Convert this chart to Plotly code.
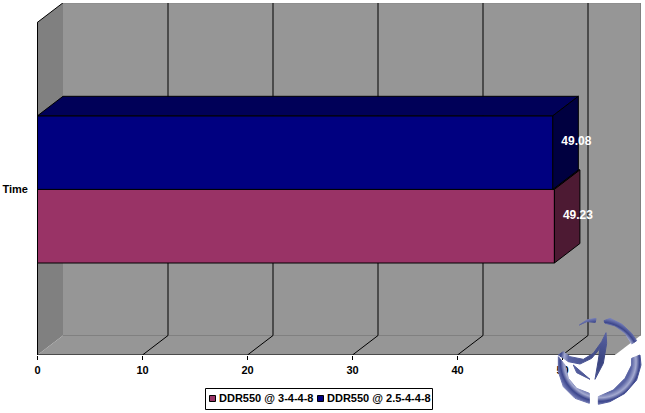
import base64
import plotly.graph_objects as go

categories = ["Time"]
category_positions = [0]
series_names = ["DDR550 @ 3-4-4-8", "DDR550 @ 2.5-4-4-8"]
series_values = [[49.23], [49.08]]
x_ticks = [0, 10, 20, 30, 40, 50]

front_colors = ["#993366", "#000080"]
top_colors = ["#4d1a33", "#000058"]
side_colors = ["#4d1a33", "#000040"]

X_MAX = 55
PX_UNIT = 10.5
PX_CAT = 333.0
DX = 25.5 / PX_UNIT
DY = 19.5 / PX_CAT
Y_LO = -0.4973
Y_HI = 0.5018
BAR_H = 73.6 / PX_CAT
L, R, T, B = 37, 4, 3, 58
PW, PH = 645 - L - R, 413 - T - B
FONT = "Liberation Sans"


def px(x, y):
    return (x - L) / PW, (413 - B - y) / PH


def poly_data(pts):
    return "M" + " L".join(f"{a:.5f},{b:.5f}" for a, b in pts) + " Z"


def line_shape(x0, y0, x1, y1, color="#000000"):
    return dict(type="line", xref="x", yref="y", x0=x0, y0=y0, x1=x1, y1=y1,
                layer="below", line=dict(color=color, width=1))


fig = go.Figure()

shapes = [
    dict(type="path", xref="x", yref="y", layer="below", fillcolor="#969696", line_width=0,
         path=poly_data([(DX, Y_LO + DY), (X_MAX + DX, Y_LO + DY), (X_MAX + DX, Y_HI + DY), (DX, Y_HI + DY)])),
    dict(type="path", xref="x", yref="y", layer="below", fillcolor="#808080", line_width=0,
         path=poly_data([(0, Y_LO), (DX, Y_LO + DY), (DX, Y_HI + DY), (0, Y_HI)])),
    dict(type="path", xref="x", yref="y", layer="below", fillcolor="#969696", line_width=0,
         path=poly_data([(0, Y_LO), (DX, Y_LO + DY), (X_MAX + DX, Y_LO + DY), (X_MAX, Y_LO)])),
    line_shape(DX, Y_LO + DY, X_MAX + DX, Y_LO + DY, "#808080"),
    line_shape(DX, Y_HI + DY, X_MAX + DX, Y_HI + DY, "#808080"),
    line_shape(X_MAX + DX, Y_LO + DY, X_MAX + DX, Y_HI + DY, "#808080"),
    line_shape(0, Y_HI, DX, Y_HI + DY),
]
for t in x_ticks[1:]:
    shapes.append(line_shape(t, Y_LO, t + DX, Y_LO + DY))
    shapes.append(line_shape(t + DX, Y_LO + DY, t + DX, Y_HI + DY))

# front bars
for name, vals, col in zip(series_names, series_values, front_colors):
    fig.add_trace(go.Bar(y=category_positions, x=vals, name=name, orientation="h",
                         marker=dict(color=col, line=dict(color="#000000", width=1)),
                         showlegend=False))

# bar depth faces, pink first; its top is only seen where the blue bar does not cover it
lows = [-BAR_H, 0.0]
top_starts = [series_values[1][0], 0]
for vals, bottom, start, tc, sc in zip(series_values, lows, top_starts, top_colors, side_colors):
    v = vals[0]
    top = bottom + BAR_H
    fig.add_trace(go.Scatter(x=[start, start + DX, v + DX, v, start],
                             y=[top, top + DY, top + DY, top, top],
                             mode="lines", fill="toself", fillcolor=tc,
                             line=dict(color="#000000", width=1), showlegend=False, hoverinfo="skip"))
    fig.add_trace(go.Scatter(x=[v, v + DX, v + DX, v, v],
                             y=[top, top + DY, bottom + DY, bottom, top],
                             mode="lines", fill="toself", fillcolor=sc,
                             line=dict(color="#000000", width=1), showlegend=False, hoverinfo="skip"))

# axis lines and end ticks
fig.add_trace(go.Scatter(x=[0, X_MAX], y=[Y_LO, Y_LO], mode="lines", cliponaxis=False,
                         line=dict(color="#000000", width=1), showlegend=False, hoverinfo="skip"))
fig.add_trace(go.Scatter(x=[0, 0], y=[Y_LO, Y_HI], mode="lines", cliponaxis=False,
                         line=dict(color="#000000", width=1), showlegend=False, hoverinfo="skip"))
for yy in (Y_LO, Y_HI):
    fig.add_trace(go.Scatter(x=[-4 / PX_UNIT, 0], y=[yy, yy], mode="lines", cliponaxis=False,
                             line=dict(color="#000000", width=1), showlegend=False, hoverinfo="skip"))

# value labels on the side faces
for vals, bottom in zip(series_values, lows):
    fig.add_trace(go.Scatter(x=[vals[0] + 23.5 / PX_UNIT], y=[bottom + BAR_H / 2 + DY / 2 + 0.002],
                             mode="text", text=[f"{vals[0]:.2f}"], textposition="middle center",
                             textfont=dict(color="#ffffff", size=12, family=FONT, weight="bold"),
                             showlegend=False, hoverinfo="skip", cliponaxis=False))

# legend box
lx0, ly0 = px(205.5, 388.5)
lx1, ly1 = px(432.5, 409.5)
paper = dict(xref="paper", yref="paper")
shapes.append(dict(type="rect", x0=lx0, y0=ly0, x1=lx1, y1=ly1, fillcolor="#ffffff",
                   line=dict(color="#000000", width=1), layer="above", **paper))
annotations = []
for name, col, sx, tx in zip(series_names, front_colors, (209.5, 317.5), (218, 325.5)):
    a0, b0 = px(sx, 395.5)
    a1, b1 = px(sx + 6, 401.5)
    shapes.append(dict(type="rect", x0=a0, y0=b0, x1=a1, y1=b1, fillcolor=col,
                       line=dict(color="#000000", width=1), layer="above", **paper))
    ax_, ay_ = px(tx, 398)
    annotations.append(dict(x=ax_, y=ay_, text=f"<b>{name}</b>", showarrow=False, xanchor="left",
                            yanchor="middle", xshift=0, font=dict(size=11, family=FONT, color="#000000"),
                            borderpad=0, **paper))

# watermark logo: decoration only, outlines in a 345x339 box over the bottom right corner
logo_parts = [
    [(222, 62), (240, 55), (275, 72), (305, 100), (320, 122), (305, 132), (285, 100), (255, 78), (225, 70)],
    [(330, 165), (333, 195), (320, 240), (285, 280), (240, 305), (205, 313), (205, 290), (250, 270), (285, 235), (305, 195), (305, 175)],
    [(85, 170), (85, 215), (100, 260), (135, 295), (178, 310), (178, 280), (140, 265), (115, 235), (105, 195)],
    [(148, 75), (170, 60), (198, 55), (196, 67), (170, 65)],
    [(85, 165), (100, 155), (120, 170), (160, 178), (190, 160), (215, 125), (228, 98), (230, 130), (220, 190),
     (195, 238), (205, 180), (210, 145), (185, 175), (150, 192), (115, 185), (105, 178)],
    [(130, 195), (180, 238), (140, 218)],
]
polys = "".join(
    '<polygon points="' + " ".join(f"{a},{b}" for a, b in part)
    + '" fill="url(#g)" stroke="url(#g)" stroke-width="3"/>' for part in logo_parts
)
svg = (
    '<svg xmlns="http://www.w3.org/2000/svg" width="345" height="339" viewBox="0 0 345 339">'
    '<defs><radialGradient id="g" gradientUnits="userSpaceOnUse" cx="210" cy="185" r="132">'
    '<stop offset="0" stop-color="#39437f"/><stop offset="0.72" stop-color="#5a64a4"/>'
    '<stop offset="0.82" stop-color="#a4aad0"/><stop offset="0.9" stop-color="#3c468c"/>'
    '<stop offset="1" stop-color="#7880b8"/></radialGradient></defs>' + polys + '</svg>'
)
logo_uri = "data:image/svg+xml;base64," + base64.b64encode(svg.encode()).decode()
ix0, iy0 = px(530, 300)
ix1, iy1 = px(645, 413)

fig.update_layout(
    width=645, height=413, autosize=False,
    margin=dict(l=L, r=R, t=T, b=B, pad=0),
    paper_bgcolor="#ffffff", plot_bgcolor="#ffffff",
    barmode="group", bargap=1 - 2 * BAR_H, bargroupgap=0,
    shapes=shapes, annotations=annotations, showlegend=False,
    images=[dict(source=logo_uri, xref="paper", yref="paper", x=ix0, y=iy0,
                 sizex=ix1 - ix0, sizey=iy0 - iy1, xanchor="left", yanchor="top",
                 sizing="stretch", layer="above")],
    xaxis=dict(range=[-0.5 / PX_UNIT, -0.5 / PX_UNIT + PW / PX_UNIT], tickmode="array", tickvals=x_ticks,
               ticks="outside", ticklen=4, tickwidth=1, tickcolor="#000000",
               showgrid=False, zeroline=False, showline=False, ticklabelstandoff=1,
               tickfont=dict(size=11, family=FONT, color="#000000", weight="bold")),
    yaxis=dict(tickmode="array", tickvals=category_positions, ticktext=categories,
               range=[Y_LO, Y_LO + PH / PX_CAT], ticks="", showgrid=False, zeroline=False, showline=False,
               ticklabelstandoff=8,
               tickfont=dict(size=11, family=FONT, color="#000000", weight="bold")),
    font=dict(family=FONT),
)

fig.write_html("out.html", config=dict(displayModeBar=False),
               post_script="document.body.style.margin='0';document.body.style.overflow='hidden';")
